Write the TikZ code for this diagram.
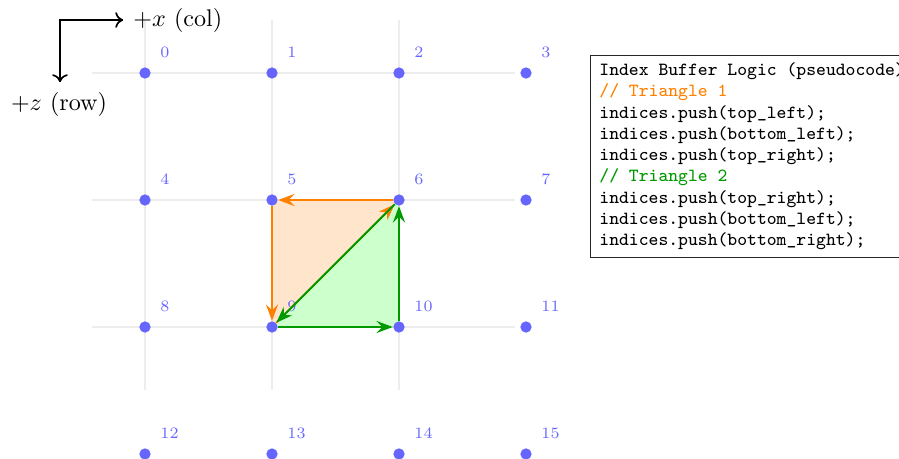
\documentclass[tikz,border=0pt]{standalone}
\usepackage{fontspec}
\usetikzlibrary{arrows.meta,backgrounds}
\definecolor{dotblue}{RGB}{102,102,255}
\definecolor{tgreen}{RGB}{0,153,0}
\definecolor{torange}{RGB}{255,128,0}
\tikzset{
  dot/.style={circle, fill=dotblue, inner sep=0pt, minimum size=4.7pt},
  idxlabel/.style={anchor=west, inner sep=0pt, text=dotblue, font=\fontsize{6.6}{8}\selectfont},
  gridline/.style={draw=black!7, line width=0.5pt},
  axisarrow/.style={line width=0.7pt, -{Computer Modern Rightarrow[length=3.2pt,width=6.5pt]}},
  tri1/.style={draw=torange, line width=0.8pt, -{Stealth[length=6.8pt,width=5pt,inset=2.4pt]}},
  tri2/.style={draw=tgreen, line width=0.8pt, -{Stealth[length=6.8pt,width=5pt,inset=2.4pt]}},
  codebox/.style={draw=black!85, line width=0.4pt, align=left, inner xsep=3.7pt, inner ysep=2.9pt,
    font=\fontsize{7.7}{8.85}\selectfont\ttfamily}
}
\begin{document}
\begin{tikzpicture}[x=0.415pt, y=-0.415pt]
\useasboundingbox (0,0) rectangle (899,458);
% grid
\foreach \r in {0,1,2} \draw[gridline] (92,{73+127*\r}) -- (515,{73+127*\r});
\foreach \c in {0,1,2} \draw[gridline] ({145+127*\c},20) -- ({145+127*\c},390);
% dots
\foreach \r in {0,...,3} {
  \foreach \c in {0,...,3} {
    \pgfmathtruncatemacro\idx{4*\r+\c}
    \node[dot] (p\idx) at ({145+127*\c},{73+127*\r}) {};
    \node[idxlabel] (l\idx) at ({160+127*\c},{52+127*\r}) {\idx};
  }
}
% triangles
\begin{scope}[on background layer]
  \fill[torange!20] (p5.center) -- (p9.center) -- (p6.center) -- cycle;
  \fill[green!20] (p6.center) -- (p9.center) -- (p10.center) -- cycle;
\end{scope}
\draw[tri1] (p5) -- (p9);
\draw[tri1] (p9) -- (p6);
\draw[tri1] (p6) -- (p5);
\draw[tri2] (p6) -- (p9);
\draw[tri2] (p9) -- (p10);
\draw[tri2] (p10) -- (p6);
% axes
\coordinate (o) at (60,20);
\coordinate (ox) at (123,20);
\coordinate (oz) at (60,82);
\draw[line width=0.7pt] (ox) -- (o) -- (oz);
\draw[axisarrow] (o) -- (ox);
\draw[axisarrow] (o) -- (oz);
\node[anchor=west, inner sep=0pt] (xl) at (133,20) {$+x$ (col)};
\node[inner sep=0pt] (zl) at (59,104) {$+z$ (row)};
% code box
\node[codebox, anchor=north west] (code) at (590,55) {Index Buffer Logic (pseudocode)\\
\textcolor{torange}{// Triangle 1}\\
indices.push(top\_left);\\
indices.push(bottom\_left);\\
indices.push(top\_right);\\
\textcolor{tgreen}{// Triangle 2}\\
indices.push(top\_right);\\
indices.push(bottom\_left);\\
indices.push(bottom\_right);};
\end{tikzpicture}
\end{document}
